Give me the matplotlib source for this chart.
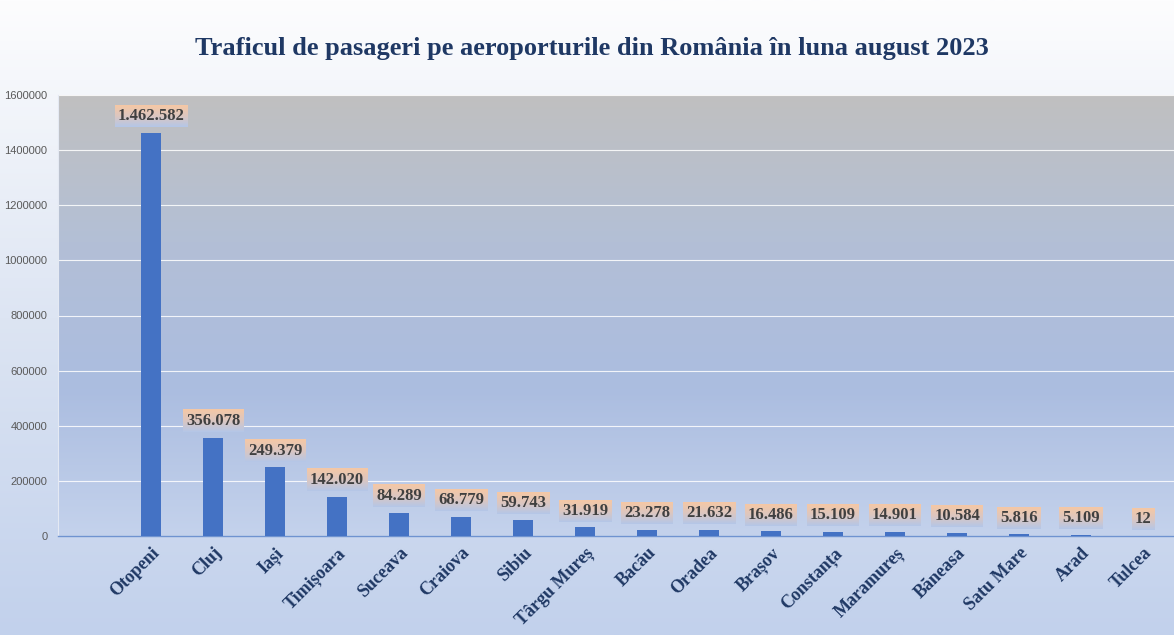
import numpy as np
import matplotlib
matplotlib.use('Agg')
import matplotlib.pyplot as plt
from matplotlib.colors import LinearSegmentedColormap

# passenger traffic, august 2023
airports = ['Otopeni', 'Cluj', 'Iași', 'Timișoara', 'Suceava', 'Craiova', 'Sibiu',
            'Târgu Mureș', 'Bacău', 'Oradea', 'Brașov', 'Constanța', 'Maramureș',
            'Băneasa', 'Satu Mare', 'Arad', 'Tulcea']
passengers = [1462582, 356078, 249379, 142020, 84289, 68779, 59743, 31919,
              23278, 21632, 16486, 15109, 14901, 10584, 5816, 5109, 12]
yticks = [0, 200000, 400000, 600000, 800000, 1000000, 1200000, 1400000, 1600000]
title = 'Traficul de pasageri pe aeroporturile din România în luna august 2023'

serif = 'Liberation Serif'
grad = np.linspace(0, 1, 256).reshape(-1, 1)

fig = plt.figure(figsize=(11.74, 6.35), dpi=100)

# figure background gradient
bg = fig.add_axes([0, 0, 1, 1], zorder=-10)
bg.axis('off')
cm_fig = LinearSegmentedColormap.from_list('figbg', ['#fdfdfe', '#dde5f3', '#c2d1ec'])
bg.imshow(grad, cmap=cm_fig, aspect='auto', extent=[0, 1, 0, 1])
bg.set_xlim(0, 1)
bg.set_ylim(0, 1)

rect = [58 / 1174, 1 - 536 / 635, 1 - 58 / 1174, (536 - 95) / 635]

# plot area gradient
pbg = fig.add_axes(rect, zorder=-5)
pbg.axis('off')
cm_plot = LinearSegmentedColormap.from_list('plotbg', ['#c0c0c0', '#b3bfd6', '#abbde0', '#c4d2ec'])
pbg.imshow(grad, cmap=cm_plot, aspect='auto', extent=[0, 1, 0, 1])
pbg.set_xlim(0, 1)
pbg.set_ylim(0, 1)

ax = fig.add_axes(rect)
ax.patch.set_alpha(0)

x = np.arange(1, len(airports) + 1)
ax.bar(x, passengers, width=0.32, color='#4472c4', zorder=3)

ax.set_xlim(-0.5, len(airports) + 0.5)
ax.set_ylim(0, 1600000)
ax.set_yticks(yticks)
ax.set_yticklabels([str(v) for v in yticks], fontsize=8, color='#595959',
                   fontfamily='Liberation Sans')
ax.yaxis.grid(True, color='white', lw=0.8, alpha=0.85)
ax.set_axisbelow(True)
ax.tick_params(axis='y', length=0, pad=7.5)
ax.tick_params(axis='x', length=0, pad=6)

ax.set_xticks(x)
ax.set_xticklabels(airports, rotation=45, ha='right', va='top', rotation_mode='anchor',
                   fontfamily=serif, fontweight='bold', fontsize=13, color='#1f3864')

for s in ['top', 'right']:
    ax.spines[s].set_visible(False)
ax.spines['left'].set_color('#e4e9f3')
ax.spines['left'].set_linewidth(0.8)
ax.spines['bottom'].set_color('#6f93d0')
ax.spines['bottom'].set_linewidth(1.0)

labels = []
for xi, v in zip(x, passengers):
    t = ax.annotate(f'{v:,}'.replace(',', '.'), (xi, v), xytext=(0, 12),
                    textcoords='offset points', ha='center', va='center',
                    fontfamily=serif, fontweight='bold', fontsize=12,
                    color='#404040', zorder=6)
    labels.append(t)

fig.text(0.504, 0.924, title, ha='center', va='center', fontfamily=serif,
         fontweight='bold', fontsize=19, color='#1f3864')

# gradient boxes behind the data labels
fig.canvas.draw()
renderer = fig.canvas.get_renderer()
cm_lab = LinearSegmentedColormap.from_list('lab', ['#f6c8a4', '#dcc6c0', '#b4c7e8'])
inv = ax.transData.inverted()
for t in labels:
    bb = t.get_window_extent(renderer)
    (x0, y0), (x1, y1) = inv.transform([(bb.x0 - 3, bb.y0 - 3), (bb.x1 + 3, bb.y1 + 3)])
    ax.imshow(grad, cmap=cm_lab, aspect='auto', extent=[x0, x1, y0, y1],
              zorder=5, interpolation='bilinear')
ax.set_xlim(-0.5, len(airports) + 0.5)
ax.set_ylim(0, 1600000)

fig.savefig('out.png', dpi=100)
